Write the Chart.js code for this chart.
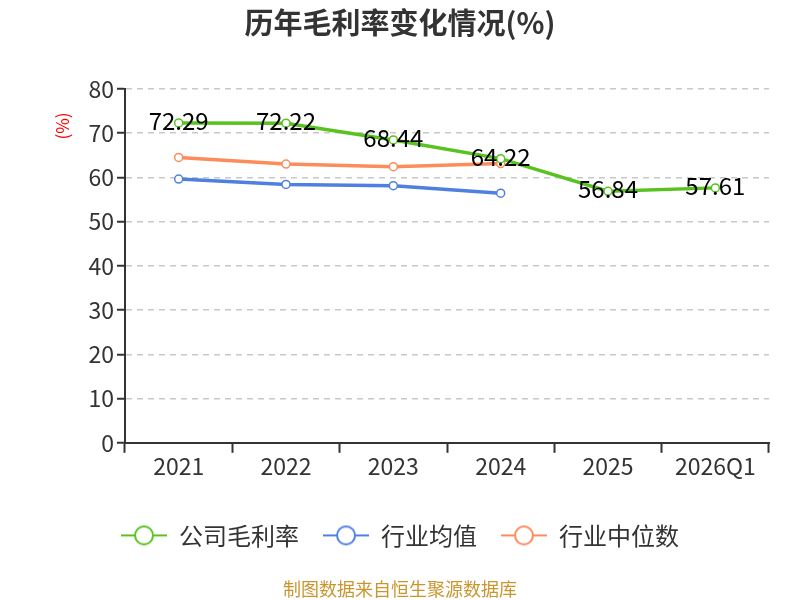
<!DOCTYPE html>
<html>
<head>
<meta charset="utf-8">
<script src="https://cdn.jsdelivr.net/npm/chart.js@4"></script>
<style>
  html, body { margin: 0; padding: 0; background: #fff; }
</style>
</head>
<body>
<canvas id="marginChart" width="800" height="600"></canvas>
<script>
const years = ['2021', '2022', '2023', '2024', '2025', '2026Q1'];
const companyMargin = [72.29, 72.22, 68.44, 64.22, 56.84, 57.61];
const industryMean = [59.6, 58.4, 58.1, 56.4, null, null];
const industryMedian = [64.5, 63.0, 62.4, 63.1, null, null];
const yTicks = [0, 10, 20, 30, 40, 50, 60, 70, 80];

const FONT = '"Noto Sans CJK SC", "Noto Sans", sans-serif';

// legend marker: short line with a hollow circle in the middle
function legendMarker(color) {
    const c = document.createElement('canvas');
    c.width = 46; c.height = 22;
    const g = c.getContext('2d');
    g.strokeStyle = color;
    g.lineWidth = 2;
    g.beginPath(); g.moveTo(0, 11); g.lineTo(46, 11); g.stroke();
    g.beginPath(); g.arc(23, 11, 9, 0, Math.PI * 2);
    g.fillStyle = '#fff'; g.fill(); g.stroke();
    return c;
}

// value labels on the company series + red unit label
const extras = {
    id: 'extras',
    afterDatasetsDraw(chart) {
        const ctx = chart.ctx;
        const meta = chart.getDatasetMeta(0);
        ctx.save();
        ctx.font = '24px ' + FONT;
        ctx.fillStyle = '#000';
        ctx.textAlign = 'center';
        ctx.textBaseline = 'middle';
        meta.data.forEach((pt, i) => {
            ctx.fillText(companyMargin[i].toFixed(2), pt.x, pt.y - 2);
        });
        ctx.translate(63, 126);
        ctx.rotate(-Math.PI / 2);
        ctx.font = '17px ' + FONT;
        ctx.fillStyle = '#ff0000';
        ctx.fillText('(%)', 0, 0);
        ctx.restore();
    }
};

const line = (label, data, color) => ({
    label: label,
    data: data,
    borderColor: color,
    backgroundColor: '#fff',
    borderWidth: 3.5,
    pointRadius: 4,
    pointBorderWidth: 1.5,
    pointBackgroundColor: '#fff',
    pointBorderColor: color,
    fill: false,
    tension: 0,
    spanGaps: false,
});

new Chart(document.getElementById('marginChart'), {
    type: 'line',
    data: {
        labels: years,
        datasets: [
            line('公司毛利率', companyMargin, '#58c31f'),
            line('行业均值', industryMean, '#4f80e1'),
            line('行业中位数', industryMedian, '#fd8c5b'),
        ],
    },
    options: {
        responsive: false,
        animation: false,
        devicePixelRatio: 1,
        layout: { padding: { left: 31, right: 31, top: 6, bottom: 0 } },
        plugins: {
            title: {
                display: true,
                text: '历年毛利率变化情况(%)',
                color: '#333',
                font: { family: FONT, size: 29, weight: 'bold' },
                padding: { top: 0, bottom: 48 },
            },
            subtitle: {
                display: true,
                position: 'bottom',
                text: '制图数据来自恒生聚源数据库',
                color: '#c9962e',
                font: { family: FONT, size: 18 },
                padding: { top: 21, bottom: 0 },
            },
            legend: {
                position: 'bottom',
                labels: {
                    usePointStyle: true,
                    pointStyleWidth: 46,
                    boxHeight: 22,
                    padding: 24,
                    color: '#333',
                    font: { family: FONT, size: 24 },
                    generateLabels(chart) {
                        return chart.data.datasets.map((ds, i) => ({
                            text: ds.label,
                            pointStyle: legendMarker(ds.borderColor),
                            fillStyle: '#fff',
                            strokeStyle: ds.borderColor,
                            lineWidth: 0,
                            fontColor: '#333',
                            datasetIndex: i,
                        }));
                    },
                },
            },
            tooltip: { enabled: false },
        },
        scales: {
            x: {
                offset: true,
                grid: {
                    offset: true,
                    drawOnChartArea: false,
                    tickLength: 10,
                    tickColor: '#333',
                    tickWidth: 2,
                },
                border: { color: '#333', width: 2 },
                ticks: {
                    color: '#333',
                    padding: 0,
                    maxRotation: 0,
                    font: { family: FONT, size: 23 },
                },
                afterFit(scale) { scale.height += 19; },
            },
            y: {
                min: 0,
                max: 80,
                afterBuildTicks(scale) {
                    scale.ticks = yTicks.map(v => ({ value: v }));
                },
                afterFit(scale) { scale.width = 94; },
                grid: {
                    color: '#c8c8c8',
                    lineWidth: 1.5,
                    tickBorderDash: [],
                    tickLength: 8,
                    tickColor: '#333',
                    tickWidth: 2,
                },
                border: { color: '#333', width: 2, dash: [6, 5] },
                ticks: {
                    color: '#333',
                    padding: 3,
                    font: { family: FONT, size: 23 },
                },
            },
        },
    },
    plugins: [extras],
});
</script>
</body>
</html>
